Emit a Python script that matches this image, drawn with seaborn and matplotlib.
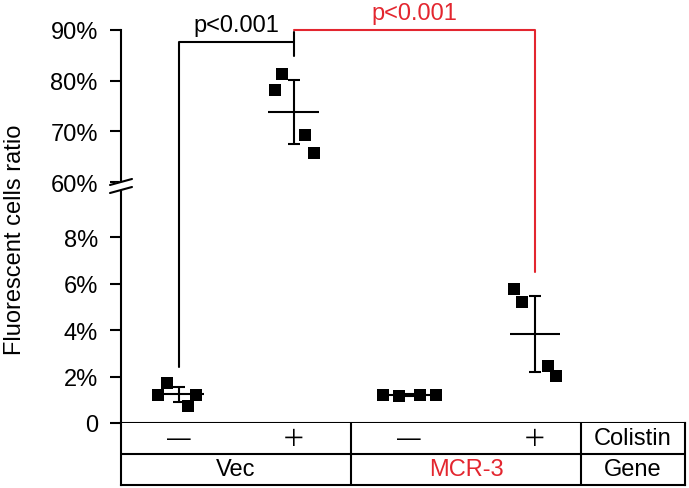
import numpy as np
import pandas as pd
import matplotlib
matplotlib.use("Agg")
import matplotlib.pyplot as plt
import seaborn as sns

# values (percent)
colistin_labels = ["—", "＋", "—", "＋"]
gene_labels = ["Vec", "MCR-3"]
vec_minus = [1.19, 1.70, 0.72, 1.19]
vec_plus = [78.1, 81.3, 69.3, 65.7]
mcr_minus = [1.22, 1.18, 1.21, 1.20]
mcr_plus = [5.76, 5.22, 2.44, 2.03]
means = [1.23, 73.8, 1.20, 3.83]
sds = [0.33, 6.3, 0.03, 1.62]
tick_values = [0, 2, 4, 6, 8, 60, 70, 80, 90]
tick_labels = ["0", "2%", "4%", "6%", "8%", "60%", "70%", "80%", "90%"]
p_left = "p<0.001"
p_right = "p<0.001"

# layout
positions = [0, 1, 2, 3.1]
offsets = [
    [-0.177, -0.098, 0.084, 0.148],
    [-0.165, -0.096, 0.104, 0.174],
    [-0.22, -0.08, 0.10, 0.24],
    [-0.183, -0.113, 0.113, 0.183],
]
RED = "#e3262f"
LW = 1.5

# broken y axis: 0-10 normal, 10-60 squeezed, 60-90 compressed
GAP = 0.366
R = 0.218


def forward(y):
    y = np.asarray(y, dtype=float)
    return np.where(y <= 10, y,
                    np.where(y <= 60, 10 + (y - 10) * GAP / 50,
                             10 + GAP + (y - 60) * R))


def backward(v):
    v = np.asarray(v, dtype=float)
    return np.where(v <= 10, v,
                    np.where(v <= 10 + GAP, 10 + (v - 10) * 50 / GAP,
                             60 + (v - 10 - GAP) / R))


sns.set_theme(style="ticks")
plt.rcParams["font.family"] = ["Liberation Sans", "DejaVu Sans"]

groups = [vec_minus, vec_plus, mcr_minus, mcr_plus]
rows = []
for g, vals in enumerate(groups):
    for off, v in zip(offsets[g], vals):
        rows.append({"x": positions[g] + off, "y": v})
df = pd.DataFrame(rows)

fig = plt.figure(figsize=(6.89, 4.89), dpi=100)
ax = fig.add_axes([121 / 689, 65 / 489, 564 / 689, 393 / 489])

# mean lines and SD bars
ax.hlines(means, np.array(positions) - 0.22, np.array(positions) + 0.22,
          color="black", lw=LW, zorder=2)
ax.errorbar(positions, means, yerr=sds, fmt="none", ecolor="black",
            elinewidth=LW, capsize=4.3, capthick=LW, zorder=2)
sns.scatterplot(data=df, x="x", y="y", marker="s", color="black", s=75,
                linewidth=0, ax=ax, zorder=3)

ax.set_yscale("function", functions=(forward, backward))
ax.set_ylim(0, 90)
ax.set_xlim(-0.5, 4.404)
ax.set_yticks(tick_values)
ax.set_yticklabels(tick_labels)
ax.set_xticks([])
ax.set_xlabel("")
ax.set_ylabel("Fluorescent cells ratio", fontsize=17, color="black")
ax.yaxis.set_label_coords(-0.168, 0.468)
ax.tick_params(axis="y", length=7.7, width=LW, labelsize=17, pad=9,
               colors="black")
for side in ["top", "right"]:
    ax.spines[side].set_visible(False)
for side in ["left", "bottom"]:
    ax.spines[side].set_linewidth(LW)
    ax.spines[side].set_color("black")

# significance brackets
ax.plot([positions[0], positions[0], positions[1]], [2.4, 87.6, 87.6],
        color="black", lw=LW, clip_on=False, zorder=1)
ax.plot([positions[1], positions[1]], [84.9, 89.7], color="black", lw=LW,
        clip_on=False, zorder=1)
ax.plot([positions[1], positions[3], positions[3]], [90, 90, 6.5],
        color=RED, lw=LW, clip_on=False, zorder=1)
ax.text((positions[0] + positions[1]) / 2, 89.8, p_left, ha="center",
        va="baseline", fontsize=17, color="black")
ax.text((positions[1] + positions[3]) / 2, 92.2, p_right, ha="center",
        va="baseline", fontsize=17, color=RED)

# axis break marks
bx = [-0.0195, 0.0195]
ax.fill([bx[0], bx[1], bx[1], bx[0]], [0.6056, 0.6209, 0.6005, 0.5852],
        color="white", transform=ax.transAxes, clip_on=False, zorder=5)
ax.plot(bx, [0.6056, 0.6209], color="black", lw=LW, transform=ax.transAxes,
        clip_on=False, zorder=6)
ax.plot(bx, [0.5852, 0.6005], color="black", lw=LW, transform=ax.transAxes,
        clip_on=False, zorder=6)

# table below the plot
ax_t = fig.add_axes([121 / 689, 3 / 489, 564 / 689, 62 / 489])
ax_t.set_xlim(ax.get_xlim())
ax_t.set_ylim(0, 2)
ax_t.set_xticks([])
ax_t.set_yticks([])
ax_t.spines["top"].set_visible(False)
for side in ["left", "right", "bottom"]:
    ax_t.spines[side].set_linewidth(LW)
    ax_t.spines[side].set_color("black")
ax_t.axhline(1, color="black", lw=LW)
ax_t.vlines([1.5, 3.5], 0, 2, color="black", lw=LW)
for pos, lab in zip(positions, colistin_labels):
    fam = ["Noto Sans CJK JP", "DejaVu Sans"] if lab == "＋" else None
    ax_t.text(pos, 1.5, lab, ha="center", va="center", fontsize=17,
              color="black", family=fam)
ax_t.text(0.5, 0.5, gene_labels[0], ha="center", va="center", fontsize=17,
          color="black")
ax_t.text(2.5, 0.5, gene_labels[1], ha="center", va="center", fontsize=17,
          color=RED)
ax_t.text(3.952, 1.5, "Colistin", ha="center", va="center", fontsize=17,
          color="black")
ax_t.text(3.952, 0.5, "Gene", ha="center", va="center", fontsize=17,
          color="black")

fig.savefig("out.png", dpi=100)
